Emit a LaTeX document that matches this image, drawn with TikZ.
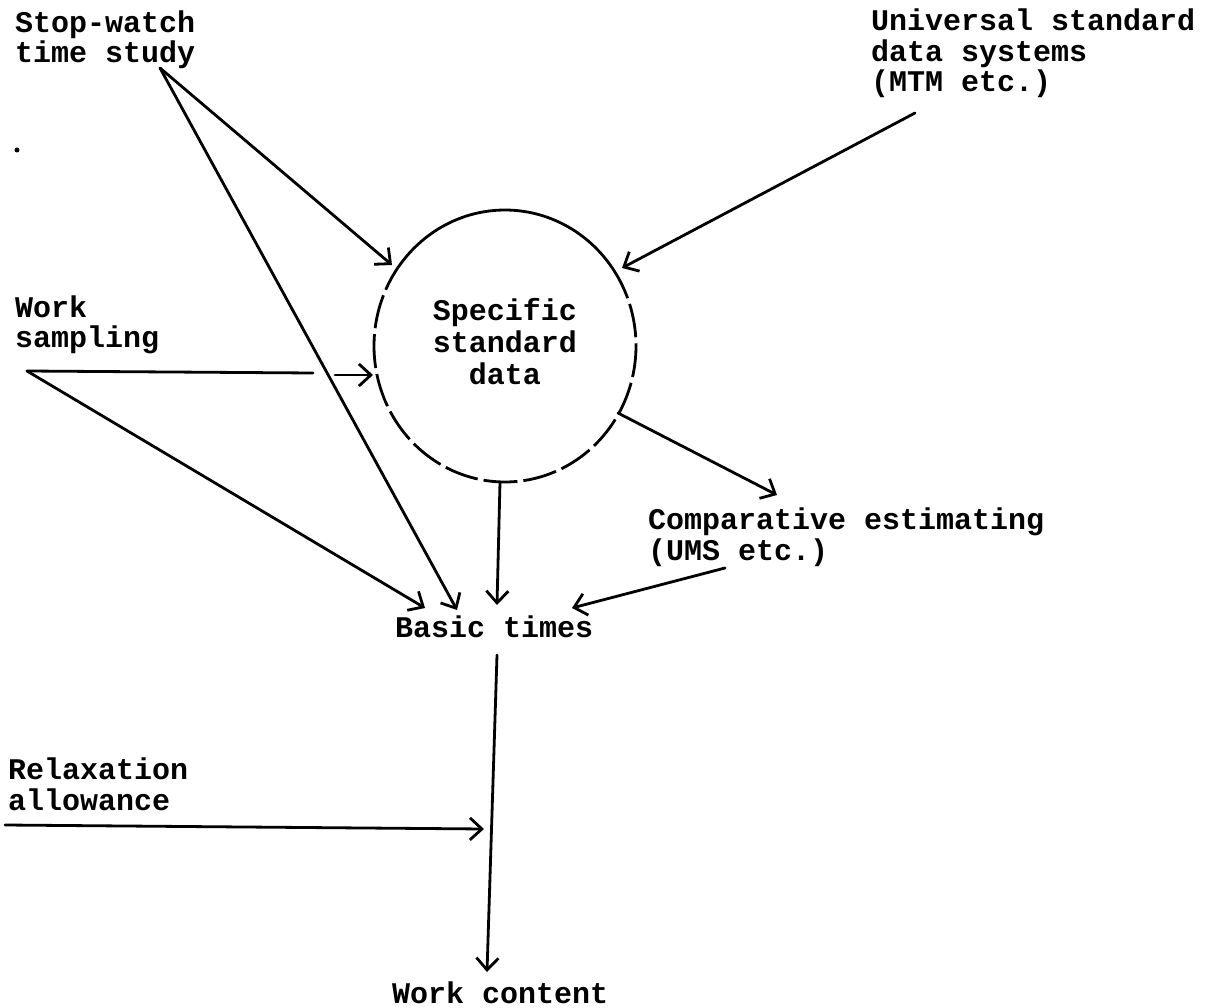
\documentclass[tikz,border=0pt]{standalone}
\usepackage{fontspec}
\setmonofont{Liberation Mono}
\usetikzlibrary{arrows.meta}
\begin{document}
\begin{tikzpicture}[x=1pt,y=-1pt,
  lbl/.style={font=\ttfamily\bfseries\fontsize{30}{30.5}\selectfont, inner sep=0pt, align=left, anchor=base west},
  ctr/.style={font=\ttfamily\bfseries\fontsize{30}{31.5}\selectfont, inner sep=0pt, align=center, anchor=base},
  conn/.style={line width=2.8pt, line cap=round},
  arr/.style={conn, -{Straight Barb[length=12pt,width=22pt]}},
  rim/.style={line width=2.8pt, line cap=butt}]
\useasboundingbox (0,0) rectangle (1221,1008);
% texts (base anchor = baseline of last line)
\node[lbl] (sw) at (15,63) {Stop-watch\\time study};
\node[lbl] (usd) at (871,92) {Universal standard\\data systems\\(MTM etc.)};
\node[lbl] (ws) at (15,348) {Work\\sampling};
\node[ctr] (ssd) at (505,384) {Specific\\standard\\data};
\node[lbl] (ce) at (648,560) {Comparative estimating\\(UMS etc.)};
\node[lbl] (bt) at (395,637) {Basic times};
\node[lbl] (ra) at (8,810) {Relaxation\\allowance};
\node[lbl] (wc) at (392,1003) {Work content};
% stray dot
\fill (17,150) circle (2.5pt);
% circle
\coordinate (cc) at (505,346);
\draw[rim] plot[domain=-145:-35, samples=60] ({505+131*cos(\x)},{346+136*sin(\x)});
\draw[rim, dash pattern=on 34pt off 6pt] plot[domain=-35:215, samples=200] ({505+131*cos(\x)},{346+136*sin(\x)});
% connector points
\coordinate (swa) at (160,68);
\coordinate (cTL) at (392,265);
\coordinate (btA) at (457,610);
\coordinate (wsa) at (27,371);
\coordinate (g1) at (313,373);
\coordinate (g2) at (335,375);
\coordinate (cL) at (373,375);
\coordinate (btB) at (425,608);
\coordinate (cB) at (500,482);
\coordinate (btC) at (497,605);
\coordinate (cBR) at (618,413);
\coordinate (ceT) at (777,495);
\coordinate (ceA) at (725,568);
\coordinate (btD) at (572,608);
\coordinate (usA) at (915,113);
\coordinate (cTR) at (622,268);
\coordinate (btb) at (497,655);
\coordinate (wcT) at (487,972);
\coordinate (raL) at (5,825);
\coordinate (raT) at (484,829);
% connectors
\draw[arr] (swa) -- (cTL);
\draw[arr] (swa) -- (btA);
\draw[conn] (wsa) -- (g1);
\draw[arr] (g2) -- (cL);
\draw[arr] (wsa) -- (btB);
\draw[arr] (cB) -- (btC);
\draw[arr] (cBR) -- (ceT);
\draw[arr] (ceA) -- (btD);
\draw[arr] (usA) -- (cTR);
\draw[arr] (btb) -- (wcT);
\draw[arr] (raL) -- (raT);
\end{tikzpicture}
\end{document}
